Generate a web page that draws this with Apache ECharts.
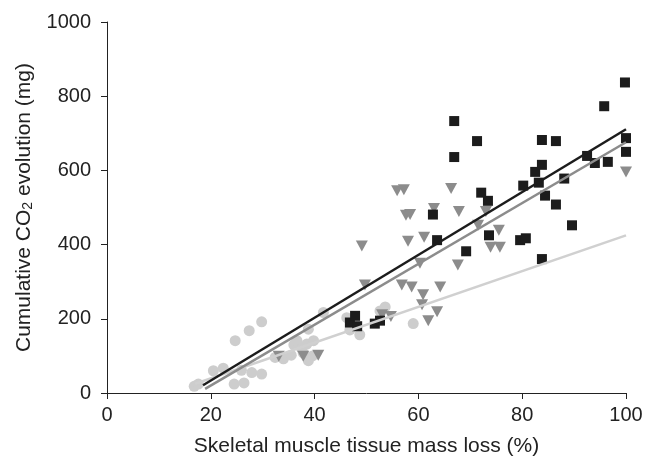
<!DOCTYPE html>
<html>
<head>
<meta charset="utf-8">
<script src="https://cdn.jsdelivr.net/npm/echarts@6/dist/echarts.min.js"></script>
<style>html,body{margin:0;padding:0;background:#fff}#c{width:654px;height:462px}</style>
</head>
<body>
<div id="c"></div>
<script>
// x: skeletal muscle tissue mass loss (%), y: cumulative CO2 evolution (mg)
const squaresX = [46.8,47.8,48.2,51.6,52.6,62.8,63.6,66.9,66.9,69.2,71.3,72.1,73.4,73.6,79.6,80.7,80.2,82.5,83.2,83.8,83.8,83.8,84.4,86.5,86.5,88.1,89.6,92.5,94.0,95.8,96.5,99.8,100,100];
const squaresY = [190,208,180,187,195,481,412,733,636,382,679,540,518,425,412,417,559,596,567,682,615,361,532,679,508,578,452,639,620,773,623,837,687,650];

const trianglesX = [33.1,37.8,40.7,49.1,49.7,53.0,54.7,55.9,57.2,56.8,57.6,58.4,58.0,58.7,60.3,60.9,60.7,61.1,61.9,63.6,63.0,64.2,66.3,67.8,67.6,73.0,71.5,75.5,73.9,75.7,100];
const trianglesY = [99,99,102,396,291,211,206,545,548,291,479,481,409,286,350,265,238,420,195,219,497,286,551,489,345,489,452,439,393,393,596];

const circlesX = [16.8,17.6,20.5,22.4,24.5,26.4,25.9,27.9,29.8,24.7,27.4,29.8,32.4,34.0,36.0,36.6,37.5,38.5,37.8,39.8,38.8,38.8,41.7,46.2,46.8,48.7,52.6,53.6,59.0,35.5,39.6];
const circlesY = [18,24,60,67,24,27,61,55,51,141,168,192,96,92,130,141,120,132,108,141,87,172,217,203,170,157,221,232,187,102,100];

// regression line endpoints [x, y]
const fitSquares = [[18.5,21],[100,711]];
const fitTriangles = [[18.9,11],[100,676]];
const fitCircles = [[17,25],[100,425]];

const xTicks = [0,20,40,60,80,100];
const yTicks = [0,200,400,600,800,1000];

const zip = (a,b) => a.map((v,i)=>[v,b[i]]);
const FONT = 'Liberation Sans';
const chart = echarts.init(document.getElementById('c'), null, {renderer:'canvas'});
chart.setOption({
  animation:false,
  backgroundColor:'#fff',
  grid:{left:107,right:28,top:22,bottom:66,containLabel:false},
  xAxis:{
    type:'value',min:xTicks[0],max:xTicks[xTicks.length-1],interval:20,
    name:'Skeletal muscle tissue mass loss (%)',nameLocation:'middle',nameGap:43,
    nameTextStyle:{fontFamily:FONT,fontSize:21,color:'#222'},
    axisLine:{lineStyle:{color:'#222',width:1}},
    axisTick:{show:true,inside:false,length:6,lineStyle:{color:'#222'}},
    axisLabel:{fontFamily:FONT,fontSize:20,color:'#222',margin:12,formatter:v=>String(v)},
    splitLine:{show:false}
  },
  yAxis:{
    type:'value',min:yTicks[0],max:yTicks[yTicks.length-1],interval:200,
    name:'Cumulative CO{sub|2} evolution (mg)',nameLocation:'middle',nameGap:65,nameRotate:90,
    nameTextStyle:{fontFamily:FONT,fontSize:21,color:'#222',rich:{sub:{fontFamily:FONT,fontSize:14,color:'#222',verticalAlign:'bottom',padding:[9,0,0,0]}}},
    axisLine:{show:true,lineStyle:{color:'#222',width:1}},
    axisTick:{show:true,inside:false,length:6,lineStyle:{color:'#222'}},
    axisLabel:{fontFamily:FONT,fontSize:20,color:'#222',margin:16,formatter:v=>String(v)},
    splitLine:{show:false}
  },
  series:[
    {type:'scatter',data:zip(circlesX,circlesY),symbol:'circle',symbolSize:11,itemStyle:{color:'#cdcdcd',opacity:1},z:2},
    {type:'scatter',data:zip(trianglesX,trianglesY),symbol:'triangle',symbolRotate:180,symbolSize:[12,11],itemStyle:{color:'#8c8c8c',opacity:1},z:3},
    {type:'scatter',data:zip(squaresX,squaresY),symbol:'rect',symbolSize:10,itemStyle:{color:'#1c1c1c',opacity:1},z:4},
    {type:'line',data:fitCircles,symbol:'none',lineStyle:{color:'#d0d0d0',width:2.5},z:5},
    {type:'line',data:fitTriangles,symbol:'none',lineStyle:{color:'#8c8c8c',width:2.5},z:6},
    {type:'line',data:fitSquares,symbol:'none',lineStyle:{color:'#1c1c1c',width:2.5},z:7}
  ]
});
</script>
</body>
</html>
